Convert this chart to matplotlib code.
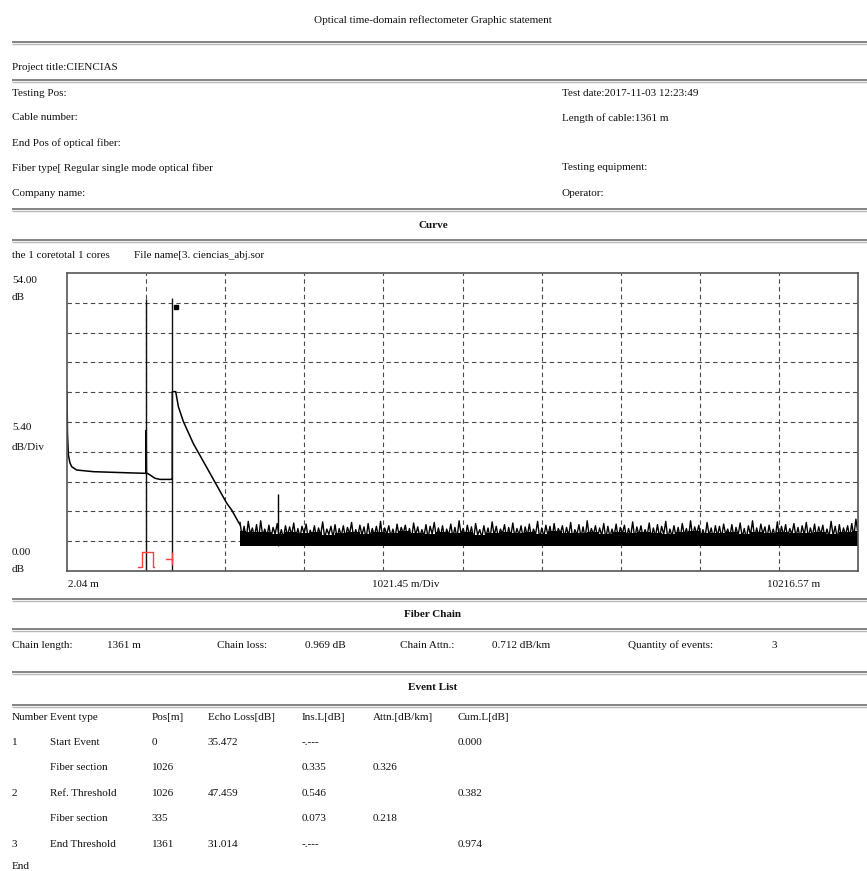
import numpy as np
import matplotlib
matplotlib.use('Agg')
import matplotlib.pyplot as plt

plt.rcParams['font.family'] = ['Liberation Serif', 'DejaVu Serif']

# ---- data ----
# OTDR trace, position [m] / level [dB]
trace_m = [2.04, 8, 20, 40, 63, 127, 342, 773, 1020, 1024, 1028, 1074, 1138, 1203,
           1354, 1361, 1362, 1406, 1440, 1504, 1633, 1849, 2064, 2129, 2214, 2236]
trace_db = [32.5, 25.0, 21.0, 19.6, 18.9, 18.3, 18.0, 17.8, 17.7, 25.5, 17.8, 17.4, 16.8, 16.6,
            16.6, 16.6, 32.5, 32.5, 29.8, 27.1, 23.1, 17.7, 12.3, 11.05, 8.9, 8.4]

# noise floor after the fibre end: spike tops and the dips between them
noise_floor = 4.5
noise_peaks = [
    8.8, 8.1, 9.0, 7.8, 8.4, 9.1, 7.6, 8.3, 7.9, 8.6,
    7.5, 8.2, 8.0, 8.7, 7.7, 8.1, 8.5, 7.4, 8.2, 7.8,
    8.9, 7.6, 8.1, 8.4, 7.7, 8.2, 7.9, 8.8, 7.5, 8.3,
    8.0, 8.6, 7.7, 8.1, 9.0, 7.8, 8.2, 7.6, 8.5, 7.9,
    8.3, 7.7, 8.7, 8.0, 7.5, 8.4, 8.1, 8.8, 7.8, 8.2,
    7.6, 8.5, 7.9, 9.1, 7.7, 8.3, 8.0, 8.6, 7.5, 8.2,
    7.8, 8.9, 8.1, 7.6, 8.4, 7.9, 8.7, 7.7, 8.2, 8.0,
    8.5, 7.6, 9.0, 7.8, 8.3, 8.1, 8.6, 7.7, 8.2, 7.9,
    8.8, 7.5, 8.4, 8.0, 9.1, 7.7, 8.2, 7.8, 8.6, 8.1,
    7.6, 8.5, 7.9, 8.3, 7.7, 8.9, 8.0, 8.2, 7.5, 8.7,
    7.8, 8.4, 8.1, 9.0, 7.6, 8.2, 7.9, 8.6, 7.7, 9.1,
    8.0, 8.3, 7.5, 8.8, 7.8, 8.2, 8.1, 8.5, 7.6, 8.4,
    7.9, 8.7, 7.7, 8.2, 9.1, 7.8, 8.5, 8.0, 8.3, 7.6,
    8.9, 8.1, 8.4, 7.7, 8.6, 7.9, 8.2, 8.8, 7.8, 8.5,
    8.0, 8.3, 7.6, 9.0, 8.1, 8.4, 7.8, 8.2, 8.6, 9.4,
]
noise_dips = [
    6.2, 5.8, 6.6, 6.0, 5.7, 6.4, 6.1, 5.9, 6.7, 6.0,
    5.8, 6.3, 6.5, 5.9, 6.1, 6.8, 5.7, 6.2, 6.0, 6.4,
    5.9, 6.6, 6.1, 5.8, 6.3, 6.0, 6.7, 5.9, 6.2, 6.5,
    5.8, 6.1, 6.4, 6.0, 5.7, 6.6, 6.2, 5.9, 6.3, 6.8,
    6.0, 5.8, 6.5, 6.1, 6.3, 5.9, 6.7, 6.0, 6.2, 5.8,
    6.4, 6.1, 5.9, 6.6, 6.0, 6.3, 5.7, 6.5, 6.1, 6.2,
    5.9, 6.4, 6.0, 6.7, 5.8, 6.2, 6.1, 6.5, 5.9, 6.3,
    6.0, 6.6, 5.8, 6.2, 6.4, 5.9, 6.1, 6.8, 6.0, 6.3,
    5.7, 6.5, 6.1, 5.9, 6.2, 6.6, 6.0, 6.4, 5.8, 6.1,
    6.3, 5.9, 6.7, 6.0, 6.2, 5.8, 6.5, 6.1, 6.4, 5.9,
    6.2, 6.0, 6.6, 5.8, 6.3, 6.1, 5.9, 6.5, 6.0, 6.2,
    6.7, 5.9, 6.1, 6.4, 5.8, 6.3, 6.0, 6.6, 6.2, 5.9,
    6.4, 6.1, 5.8, 6.5, 6.0, 6.2, 6.7, 5.9, 6.3, 6.1,
    5.8, 6.4, 6.0, 6.6, 6.2, 5.9, 6.5, 6.1, 6.3, 6.0,
    6.6, 5.9, 6.2, 6.4, 5.8, 6.1, 6.5, 6.0, 6.3, 6.8,
]
noise_body = [
    7.2, 7.0, 7.1, 6.7, 7.0, 6.8, 7.1, 6.6, 6.9, 7.1,
    6.7, 7.0, 6.8, 7.2, 6.9, 6.7, 7.1, 6.8, 7.0, 6.6,
    6.9, 7.1, 6.8, 7.0, 6.7, 7.2, 6.9, 6.8, 7.1, 6.7,
    7.0, 6.8, 7.1, 6.9, 6.7, 7.0, 7.2, 6.8, 6.9, 7.1,
    6.7, 7.0, 6.8, 7.1, 6.9, 6.8, 7.0, 6.7, 7.1, 7.2,
]
ghost_m, ghost_db = 2731, 13.9

# event cursors and the small marker
cursor_m = [1026, 1361]
cursor_top = [49.2, 49.4]
mark_m, mark_db = 1406, 47.9
pulse_m = [923, 967, 967, 1117, 1117, 1130]
pulse_db = [0.8, 0.8, 3.5, 3.5, 0.8, 0.8]
end_dash_m = [1280, 1361]
end_dash_db = [2.2, 2.2]
end_bar_db = [1.0, 3.4]

x_min, x_max = 2.04, 10216.57
y_max = 54.0
n_div = 10

header_left = ['Testing Pos:', 'Cable number:', 'End Pos of optical fiber:',
               'Fiber type[ Regular single mode optical fiber', 'Company name:']
header_right = ['Test date:2017-11-03 12:23:49', 'Length of cable:1361 m', '',
                'Testing equipment:', 'Operator:']
chain_labels = ['Chain length:', 'Chain loss:', 'Chain Attn.:', 'Quantity of events:']
chain_values = ['1361 m', '0.969 dB', '0.712 dB/km', '3']
event_cols = ['Number', 'Event type', 'Pos[m]', 'Echo Loss[dB]', 'Ins.L[dB]', 'Attn.[dB/km]', 'Cum.L[dB]']
event_rows = [
    ['1', 'Start Event', '0', '35.472', '-.---', '', '0.000'],
    ['', 'Fiber section', '1026', '', '0.335', '0.326', ''],
    ['2', 'Ref. Threshold', '1026', '47.459', '0.546', '', '0.382'],
    ['', 'Fiber section', '335', '', '0.073', '0.218', ''],
    ['3', 'End Threshold', '1361', '31.014', '-.---', '', '0.974'],
]

W, H = 867, 871
fig = plt.figure(figsize=(W / 100, H / 100), dpi=100)
fig.patch.set_facecolor('white')

# page layer in pixel coordinates
bg = fig.add_axes([0, 0, 1, 1])
bg.set_xlim(0, W)
bg.set_ylim(H, 0)
bg.axis('off')

tc = '#111111'
fs = 8


def rule(y):
    bg.plot([12, W], [y, y], color='#7a7a7a', lw=1.3, solid_capstyle='butt')
    bg.plot([12, W], [y + 2, y + 2], color='#b8b8b8', lw=1.0, solid_capstyle='butt')


def txt(x, y, s, **kw):
    bg.text(x, y, s, fontsize=fs, color=tc, va='center', **kw)


txt(433, 20, 'Optical time-domain reflectometer Graphic statement', ha='center')
rule(42)
txt(12, 68, 'Project title:CIENCIAS')
rule(80)
for i, (l, r) in enumerate(zip(header_left, header_right)):
    y = 93 + 25 * i
    txt(12, y, l)
    if r:
        txt(562, y, r)
rule(209)
txt(433, 225, 'Curve', ha='center', fontweight='bold')
rule(240)
txt(12, 255, 'the 1 coretotal 1 cores')
txt(134, 255, 'File name[3. ciencias_abj.sor')

# axis annotations of the trace window
txt(12, 280, '54.00')
txt(12, 297, 'dB')
txt(12, 427, '5.40')
txt(12, 447, 'dB/Div')
txt(12, 552, '0.00')
txt(12, 569, 'dB')
txt(68, 584, '2.04 m')
txt(372, 584, '1021.45 m/Div')
txt(767, 584, '10216.57 m')

rule(599)
txt(433, 614, 'Fiber Chain', ha='center', fontweight='bold')
rule(629)
lab_x = [12, 217, 400, 628]
val_x = [107, 305, 492, 771]
for lx, vx, lab, val in zip(lab_x, val_x, chain_labels, chain_values):
    txt(lx, 645, lab)
    txt(vx, 645, val)
rule(672)
txt(433, 687, 'Event List', ha='center', fontweight='bold')
rule(705)
col_x = [12, 50, 152, 208, 302, 373, 458]
for cx, c in zip(col_x, event_cols):
    txt(cx, 717, c)
for r, row in enumerate(event_rows):
    y = 742 + 25.5 * r
    for cx, c in zip(col_x, row):
        if c:
            txt(cx, y, c)
txt(12, 866, 'End')

# ---- trace window ----
left, right, top, bottom = 67, 858, 273, 571
ax = fig.add_axes([left / W, 1 - bottom / H, (right - left) / W, (bottom - top) / H])
ax.set_xlim(x_min, x_max)
ax.set_ylim(0, y_max)
step_x = (x_max - x_min) / n_div
ax.set_xticks([x_min + k * step_x for k in range(1, n_div)])
ax.set_yticks([k * y_max / n_div for k in range(1, n_div)])
ax.tick_params(length=0, labelbottom=False, labelleft=False)
ax.grid(True, color='#4a4a4a', lw=0.8, linestyle=(0, (4, 3)))
ax.set_axisbelow(True)
for sp in ax.spines.values():
    sp.set_color('#555555')
    sp.set_linewidth(1.2)

ax.plot(trace_m, trace_db, color='black', lw=1.1)

# noise: solid body plus a zigzag through spike tops and dips
body_x = np.linspace(2236, 10216, len(noise_body))
ax.fill_between(body_x, noise_floor, noise_body, color='black', step='mid', lw=0)
zig_x = np.linspace(2236, 10216, 2 * len(noise_peaks))
zig_y = np.empty(2 * len(noise_peaks))
zig_y[0::2] = noise_peaks
zig_y[1::2] = noise_dips
ax.plot(zig_x, zig_y, color='black', lw=1.0)
ax.vlines(ghost_m, noise_floor, ghost_db, color='black', lw=1.0)

ax.vlines(cursor_m, 0, cursor_top, color='#111111', lw=1.0)
ax.plot([mark_m], [mark_db], marker='s', color='black', ms=3)
ax.plot(pulse_m, pulse_db, color='#ff4040', lw=1.0)
ax.plot(end_dash_m, end_dash_db, color='#ff4040', lw=1.0)
ax.vlines(cursor_m[1], end_bar_db[0], end_bar_db[1], color='#ff4040', lw=1.0)

fig.savefig('out.png', dpi=100, facecolor='white')
